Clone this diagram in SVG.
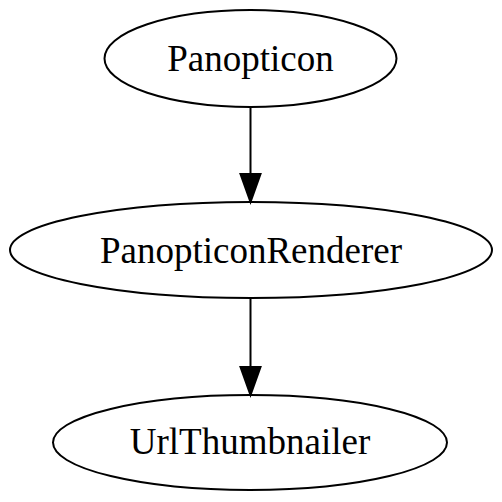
<svg xmlns="http://www.w3.org/2000/svg" width="502" height="502" viewBox="0 0 502 502">
<defs>
<style>
.node ellipse{fill:none;stroke:#000;stroke-width:2}
.node text{font-family:"Liberation Serif","Times New Roman",serif;font-size:37px;text-anchor:middle;fill:#000}
.edge{stroke:#000;stroke-width:2;fill:none}
.head{fill:#000;stroke:#000;stroke-width:2}
</style>
</defs>
<rect width="502" height="502" fill="#fff"/>
<g id="Panopticon" class="node">
<ellipse cx="250.5" cy="58.5" rx="146" ry="48.5"/>
<text x="250.5" y="71">Panopticon</text>
</g>
<g id="PanopticonRenderer" class="node">
<ellipse cx="251" cy="250" rx="241" ry="48"/>
<text x="251" y="263">PanopticonRenderer</text>
</g>
<g id="UrlThumbnailer" class="node">
<ellipse cx="250" cy="442.5" rx="197" ry="47.5"/>
<text x="250" y="454">UrlThumbnailer</text>
</g>
<g id="connectors">
<line class="edge" x1="250.5" y1="107" x2="250.5" y2="174"/>
<polygon class="head" points="240.5,174 260.5,174 250.5,202"/>
<line class="edge" x1="250.5" y1="298" x2="250.5" y2="367"/>
<polygon class="head" points="240.5,367 260.5,367 250.5,395"/>
</g>
</svg>
